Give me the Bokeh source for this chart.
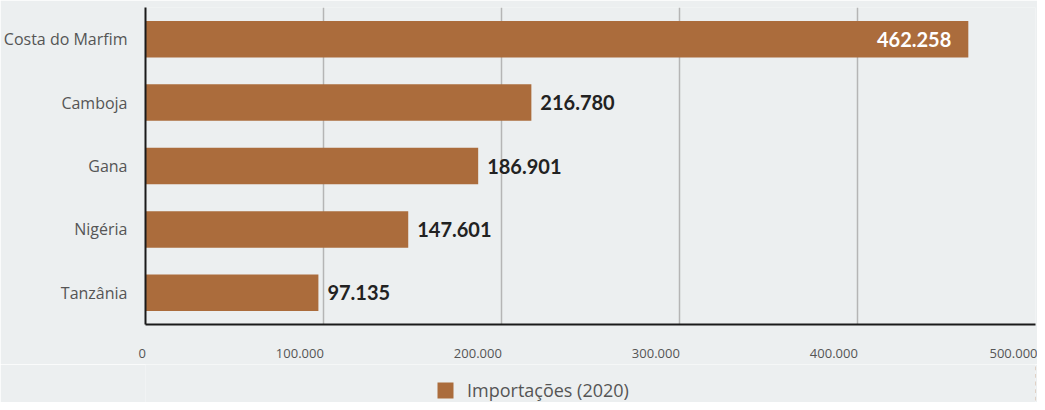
from bokeh.plotting import figure
from bokeh.layouts import column
from bokeh.models import (ColumnDataSource, LabelSet, Legend, LegendItem,
                          FixedTicker, Range1d, FactorRange)
from bokeh.core.properties import value
from bokeh.embed import file_html
from bokeh.resources import INLINE

countries = ["Costa do Marfim", "Camboja", "Gana", "Nigéria", "Tanzânia"]
values = [462258, 216780, 186901, 147601, 97135]
x_ticks = [0, 100000, 200000, 300000, 400000, 500000]
x_tick_labels = ["0", "100.000", "200.000", "300.000", "400.000", "500.000"]
series_name = "Importações (2020)"

BG = "#eceff0"
BAR = "#ab6c3c"

labels = [f"{v:,}".replace(",", ".") for v in values]
inside = [v == max(values) for v in values]
src = ColumnDataSource(dict(
    country=countries,
    value=values,
    label=labels,
    color=["#ffffff" if i else "#222222" for i in inside],
    align=["right" if i else "left" for i in inside],
    xoff=[-17 if i else 9 for i in inside],
))


def right_aligned(s, last=False):
    # pad with no-break spaces so the centred tick label ends at its tick
    if last:
        return s  # Bokeh already keeps the last label inside the canvas
    w = sum(0.572 if c.isdigit() else 0.27 for c in s)
    return s + "\u00a0" * round(w / 0.26)


p = figure(width=1037, height=364, output_backend="svg", toolbar_location=None,
           y_range=FactorRange(*reversed(countries), range_padding=0),
           x_range=Range1d(0, 500000))
p.background_fill_color = BG
p.border_fill_color = BG
p.outline_line_color = None
p.min_border_left = 144
p.min_border_right = 2
p.min_border_top = 7
p.min_border_bottom = 35

r = p.hbar(y="country", right="value", height=0.575, source=src,
           color=BAR, line_color=None)

p.add_layout(LabelSet(x="value", y="country", text="label", source=src,
                      x_offset="xoff", text_align="align", text_color="color",
                      text_baseline="middle", text_font=value("Lato"),
                      text_font_style="bold", text_font_size="20px"))

p.xaxis.ticker = FixedTicker(ticks=x_ticks)
p.xaxis.major_label_overrides = {
    t: right_aligned(l, i == len(x_ticks) - 1)
    for i, (t, l) in enumerate(zip(x_ticks, x_tick_labels))
}
p.xaxis.major_label_text_font = "Open Sans"
p.xaxis.major_label_text_font_size = "13px"
p.xaxis.major_label_text_color = "#555555"
p.xaxis.major_label_standoff = 13
p.xaxis.major_tick_line_color = None
p.xaxis.minor_tick_line_color = None
p.xaxis.axis_line_color = "#1a1a1a"
p.xaxis.axis_line_width = 2

p.yaxis.major_label_text_font = "Open Sans"
p.yaxis.major_label_text_font_size = "16px"
p.yaxis.major_label_text_color = "#555555"
p.yaxis.major_label_standoff = 12
p.yaxis.major_tick_line_color = None
p.yaxis.axis_line_color = "#1a1a1a"
p.yaxis.axis_line_width = 2

p.xgrid.ticker = FixedTicker(ticks=x_ticks)
p.xgrid.grid_line_color = "#b5b5b5"
p.xgrid.grid_line_width = 1.5
p.ygrid.grid_line_color = None

# legend strip under the chart (bars of this strip lie outside its visible range)
pl = figure(width=1037, height=38, output_backend="svg", toolbar_location=None,
            x_range=Range1d(-2, -1), y_range=FactorRange(*countries))
pl.background_fill_color = BG
pl.border_fill_color = BG
pl.outline_line_color = None
pl.min_border = 0
pl.axis.visible = False
pl.grid.visible = False
lr = pl.hbar(y="country", right="value", height=0.5, source=src,
             color=BAR, line_color=None)
legend = Legend(items=[LegendItem(label=series_name, renderers=[lr])],
                orientation="horizontal", location=(290, 0),
                background_fill_alpha=0, border_line_color=None,
                label_text_font="Open Sans", label_text_font_size="18px",
                label_text_color="#555555", glyph_width=20, glyph_height=20,
                label_standoff=12, padding=0, margin=0)
pl.add_layout(legend, "center")

layout = column(p, pl, spacing=0)
open("out.html", "w").write(file_html(layout, INLINE))
